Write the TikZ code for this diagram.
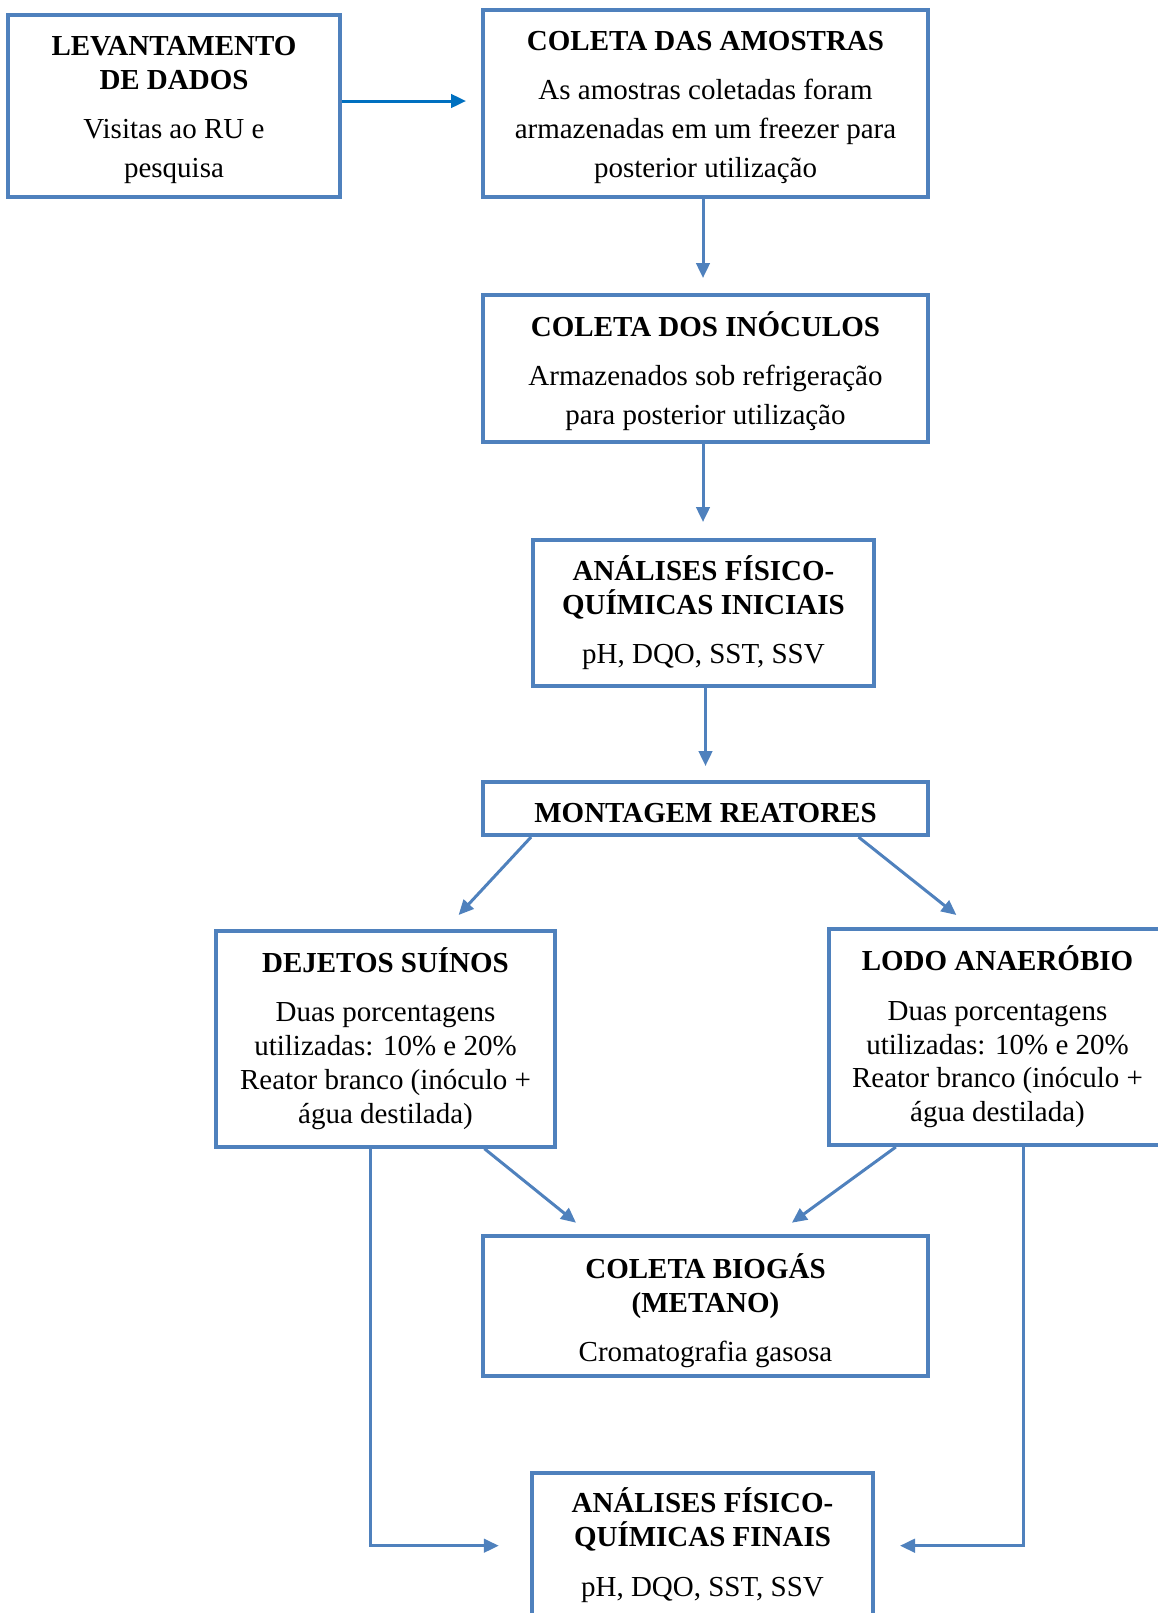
\documentclass[tikz,border=0pt]{standalone}
\usepackage{fontspec}
\setmainfont{Liberation Serif}
\usepackage{tikz}
\usetikzlibrary{calc,arrows.meta}
\definecolor{boxblue}{RGB}{79,129,189}
\definecolor{linkblue}{RGB}{0,112,192}
\newcommand{\desce}[1]{\rule{0pt}{\dimexpr\fontcharht\font`A+#1\relax}}
\tikzset{
	etapa/.style={draw=boxblue,line width=0.08cm,fill=white,inner sep=0pt,align=center,
		font=\fontsize{16.5}{19.3}\selectfont},
	seta/.style={draw=boxblue,line width=0.06cm,-{Triangle[length=0.3cm,width=0.27cm]}}
}
\begin{document}
\begin{tikzpicture}[x=0.02cm,y=-0.02cm]
	\useasboundingbox (0,0) rectangle (1158,1613);
	\node[etapa,minimum width=6.64cm,minimum height=3.64cm] (lev) at (174,106)
		{\textbf{\desce{4.6pt}LEVANTAMENTO}\\\textbf{DE DADOS}\\[8.8pt]Visitas ao RU e\\[2.6pt]pesquisa};
	\node[etapa,minimum width=8.9cm,minimum height=3.74cm] (amo) at (705.5,103.5)
		{\textbf{\desce{4.6pt}COLETA DAS AMOSTRAS}\\[8.8pt]As amostras coletadas foram\\[2.8pt]armazenadas em um freezer para\\[2.8pt]posterior utilização};
	\node[etapa,minimum width=8.9cm,minimum height=2.94cm] (ino) at (705.5,368.5)
		{\textbf{\desce{6.2pt}COLETA DOS INÓCULOS}\\[8.8pt]Armazenados sob refrigeração\\[2.8pt]para posterior utilização};
	\node[etapa,minimum width=6.82cm,minimum height=2.92cm] (ini) at (703.5,613)
		{\textbf{ANÁLISES FÍSICO-}\\\textbf{QUÍMICAS INICIAIS}\\[8.8pt]pH, DQO, SST, SSV};
	\node[etapa,minimum width=8.9cm,minimum height=1.07cm] (mont) at (705.5,808.3)
		{\textbf{\desce{5.8pt}MONTAGEM REATORES}};
	\node[etapa,minimum width=6.78cm,minimum height=4.32cm] (dej) at (385.5,1038.7)
		{\textbf{DEJETOS SUÍNOS}\\[8.8pt]Duas porcentagens\\utilizadas: 10\% e 20\%\\Reator branco (inóculo +\\água destilada)};
	\node[etapa,minimum width=6.74cm,minimum height=4.32cm] (lodo) at (997.5,1037)
		{\textbf{LODO ANAERÓBIO}\\[8.8pt]Duas porcentagens\\utilizadas: 10\% e 20\%\\Reator branco (inóculo +\\água destilada)};
	\node[etapa,minimum width=8.9cm,minimum height=2.8cm] (bio) at (705.5,1306)
		{\textbf{\desce{8.4pt}COLETA BIOGÁS}\\\textbf{(METANO)}\\[8.8pt]Cromatografia gasosa};
	\node[etapa,minimum width=6.82cm,minimum height=2.88cm] (fin) at (702.5,1545)
		{\textbf{ANÁLISES FÍSICO-}\\\textbf{QUÍMICAS FINAIS}\\[8.8pt]pH, DQO, SST, SSV};
	\coordinate (t1) at (466,101);
	\coordinate (t2) at (703,278);
	\coordinate (t3) at (703,522);
	\coordinate (t4) at (705.5,766);
	\coordinate (t5) at (458.6,915);
	\coordinate (t6) at (956.4,915);
	\coordinate (t7) at (576,1222.7);
	\coordinate (t8) at (791.9,1222.7);
	\coordinate (t9) at (498.8,1545.7);
	\coordinate (t10) at (900,1545.7);
	\draw[seta,draw=linkblue,fill=linkblue] (lev.east |- t1) -- (t1);
	\draw[seta] (amo.south -| t2) -- (t2);
	\draw[seta] (ino.south -| t3) -- (t3);
	\draw[seta] (ini.south -| t4) -- (t4);
	\draw[seta] ($(mont.south west)+(50,0)$) -- (t5);
	\draw[seta] ($(mont.south east)+(-71.4,0)$) -- (t6);
	\draw[seta] ($(dej.south west)+(270.4,0)$) -- (t7);
	\draw[seta] ($(lodo.south west)+(68.8,0)$) -- (t8);
	\draw[seta] ($(dej.south west)+(156.3,0)$) |- (t9);
	\draw[seta] ($(lodo.south west)+(196.3,0)$) |- (t10);
\end{tikzpicture}
\end{document}
